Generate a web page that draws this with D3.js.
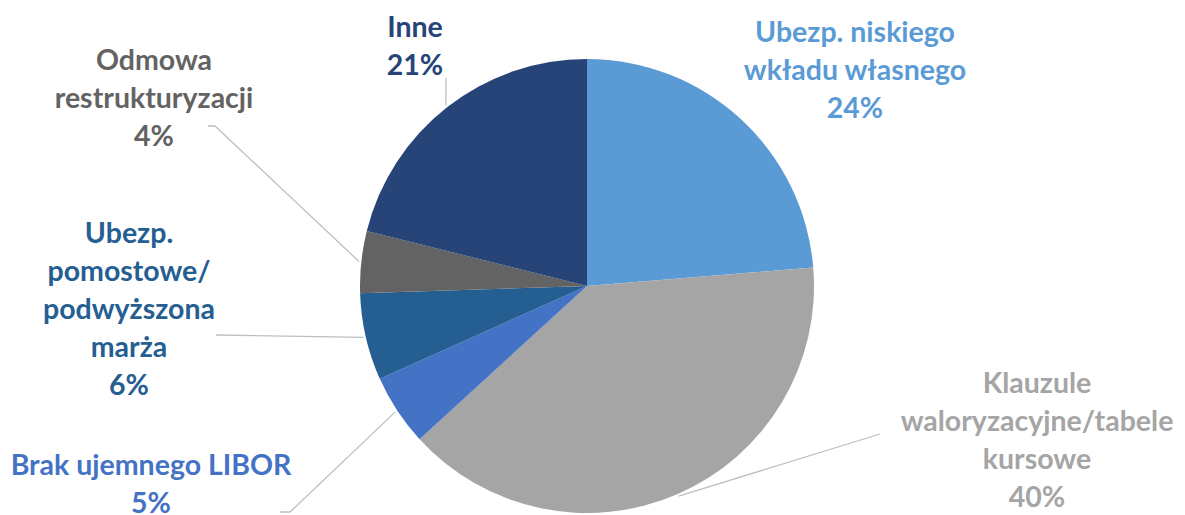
<!DOCTYPE html>
<html>
<head>
<meta charset="utf-8">
<script src="https://cdn.jsdelivr.net/npm/d3@7"></script>
<style>
  body { margin: 0; background: #fff; }
  svg { display: block; }
  .lbl { font-family: Lato, "Open Sans", sans-serif; font-weight: 700; font-size: 28.5px; }
</style>
</head>
<body>
<svg width="1185" height="515"></svg>
<script>
// slice data, clockwise from 12 o'clock
const categories = [
  'Ubezp. niskiego wkładu własnego',
  'Klauzule waloryzacyjne/tabele kursowe',
  'Brak ujemnego LIBOR',
  'Ubezp. pomostowe/podwyższona marża',
  'Odmowa restrukturyzacji',
  'Inne'
];
const shares = [23.7, 39.5, 5.1, 6.2, 4.4, 21.1];
const labelLines = [
  ['Ubezp. niskiego', 'wkładu własnego'],
  ['Klauzule', 'waloryzacyjne/tabele', 'kursowe'],
  ['Brak ujemnego LIBOR'],
  ['Ubezp.', 'pomostowe/', 'podwyższona', 'marża'],
  ['Odmowa', 'restrukturyzacji'],
  ['Inne']
];
const colors = ['#5B9BD5', '#A5A5A5', '#4472C4', '#255E91', '#636363', '#264478'];

const svg = d3.select('svg');
const cx = 587, cy = 286, radius = 227;
const lineH = 38;

// label block positions: centre x, first baseline y, leader start
const labelPos = [
  {x: 855, y: 42, lead: null},
  {x: 1037, y: 393, lead: [880, 434]},
  {x: 151, y: 475, lead: [280, 512], hook: [290, 512]},
  {x: 129, y: 243, lead: [216, 335]},
  {x: 154, y: 70, lead: [208, 126], hook: [215, 126]},
  {x: 415, y: 37, lead: [446, 78]}
];

const total = d3.sum(shares);
const data = categories.map((c, i) => ({name: c, value: shares[i], i}));

const pie = d3.pie().value(d => d.value).sort(null);
const arc = d3.arc().innerRadius(0).outerRadius(radius);
const arcs = pie(data);

const g = svg.append('g').attr('transform', `translate(${cx},${cy})`);

g.selectAll('path.slice')
  .data(arcs)
  .join('path')
  .attr('class', 'slice')
  .attr('d', arc)
  .attr('fill', d => colors[d.data.i]);

// leader lines
arcs.forEach(a => {
  const p = labelPos[a.data.i];
  if (!p.lead) return;
  const mid = (a.startAngle + a.endAngle) / 2;
  const ex = cx + Math.sin(mid) * radius * 1.01;
  const ey = cy - Math.cos(mid) * radius * 1.01;
  const pts = [p.lead];
  if (p.hook) pts.push(p.hook);
  pts.push([ex, ey]);
  svg.append('path')
    .attr('d', d3.line()(pts))
    .attr('fill', 'none')
    .attr('stroke', '#BFBFBF')
    .attr('stroke-width', 1.3);
});

// labels
arcs.forEach(a => {
  const i = a.data.i;
  const p = labelPos[i];
  const lines = labelLines[i].concat([Math.round(a.data.value / total * 100) + '%']);
  const t = svg.append('text')
    .attr('class', 'lbl')
    .attr('text-anchor', 'middle')
    .attr('fill', colors[i]);
  lines.forEach((s, k) => {
    t.append('tspan').attr('x', p.x).attr('y', p.y + k * lineH).text(s);
  });
});
</script>
</body>
</html>
